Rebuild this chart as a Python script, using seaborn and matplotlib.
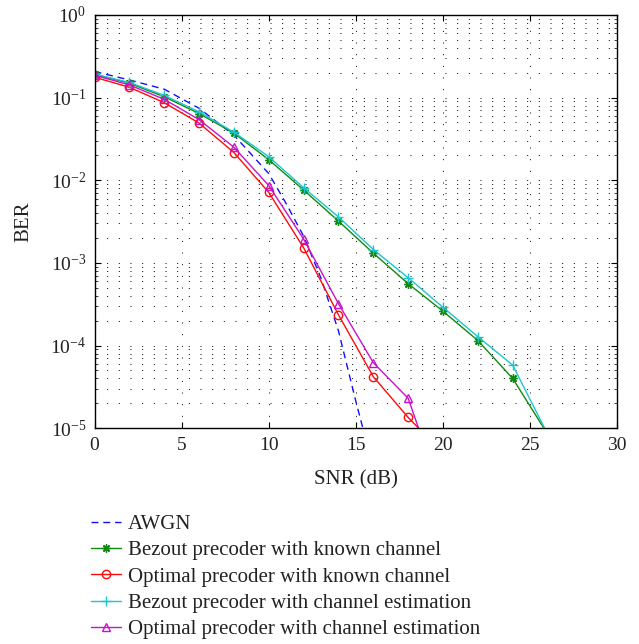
import numpy as np
import pandas as pd
import matplotlib
matplotlib.use("Agg")
import matplotlib.pyplot as plt
import seaborn as sns
from matplotlib.ticker import LogLocator, FixedLocator

# ---- data ----
snr = [0, 2, 4, 6, 8, 10, 12, 14, 16, 18, 20, 22, 24, 26]

awgn_snr = [0, 2, 4, 6, 8, 10, 11, 12, 13, 14, 14.5, 15, 15.4, 15.6]
awgn_ber = [0.206, 0.163, 0.126, 0.074, 0.035, 0.012, 0.0052, 0.0021,
            6.5e-4, 1.5e-4, 5.6e-5, 2.1e-5, 1.0e-5, 7.0e-6]

bezout_known = [0.19, 0.149, 0.102, 0.064, 0.037, 0.0177, 0.0076, 0.0032,
                0.00131, 5.6e-4, 2.6e-4, 1.15e-4, 4.0e-5, 8.5e-6]
optimal_known = [0.176, 0.133, 0.0865, 0.049, 0.0216, 0.0071, 0.00152,
                 2.35e-4, 4.2e-5, 1.35e-5, 5.0e-6]
bezout_est = [0.192, 0.152, 0.106, 0.067, 0.038, 0.0192, 0.0081, 0.0036,
              0.00145, 6.6e-4, 2.9e-4, 1.28e-4, 5.8e-5, 8.5e-6]
optimal_est = [0.186, 0.142, 0.095, 0.054, 0.025, 0.0086, 0.00194,
               3.2e-4, 6.2e-5, 2.3e-5, 1.4e-6]

labels = ["AWGN",
          "Bezout precoder with known channel",
          "Optimal precoder with known channel",
          "Bezout precoder with channel estimation",
          "Optimal precoder with channel estimation"]

xticks = [0, 5, 10, 15, 20, 25, 30]

# ---- style ----
sns.set_theme(style="white")
plt.rcParams["font.family"] = ["Liberation Serif", "DejaVu Serif"]
plt.rcParams["mathtext.fontset"] = "custom"
plt.rcParams["mathtext.rm"] = "Liberation Serif"
plt.rcParams["mathtext.it"] = "Liberation Serif:italic"
plt.rcParams["mathtext.bf"] = "Liberation Serif:bold"

fig = plt.figure(figsize=(6.39, 6.44), dpi=100)
ax = fig.add_axes([0.148, 0.335, 0.818, 0.642])

lw = 1.0
sns.lineplot(x=awgn_snr, y=awgn_ber, ax=ax, color="#1010ff", lw=lw,
             linestyle=(0, (5, 3.5)), label=labels[0], sort=False)
sns.lineplot(x=snr[:len(bezout_known)], y=bezout_known, ax=ax, color="#108a10",
             lw=lw, marker=(8, 2, 0), markersize=6, markeredgewidth=1.0,
             markeredgecolor="#108a10", label=labels[1], sort=False)
sns.lineplot(x=snr[:len(optimal_known)], y=optimal_known, ax=ax, color="#ff0a0a",
             lw=lw, marker="o", markersize=6, markerfacecolor="none",
             markeredgecolor="#ff0a0a", markeredgewidth=1.0,
             label=labels[2], sort=False)
sns.lineplot(x=snr[:len(bezout_est)], y=bezout_est, ax=ax, color="#1cc6cc",
             lw=lw, marker="+", markersize=7, markeredgewidth=1.0,
             markeredgecolor="#1cc6cc", label=labels[3], sort=False)
sns.lineplot(x=snr[:len(optimal_est)], y=optimal_est, ax=ax, color="#c814c8",
             lw=lw, marker="^", markersize=6, markerfacecolor="none",
             markeredgecolor="#c814c8", markeredgewidth=1.0,
             label=labels[4], sort=False)

ax.set_yscale("log")
ax.set_xlim(0, 30)
ax.set_ylim(1e-5, 1)
ax.xaxis.set_major_locator(FixedLocator(xticks))
ax.yaxis.set_major_locator(LogLocator(base=10, numticks=10))
ax.yaxis.set_minor_locator(LogLocator(base=10, subs=np.arange(2, 10), numticks=20))

dot = (0, (1, 11))
ax.grid(True, which="major", axis="both", color="black", lw=0.7, linestyle=dot)
ax.grid(True, which="minor", axis="y", color="black", lw=0.7, linestyle=dot)

for s in ax.spines.values():
    s.set_visible(True)
    s.set_color("black")
    s.set_linewidth(1.0)

ax.tick_params(axis="both", which="major", direction="in", length=4, width=0.8,
               top=True, right=True, bottom=True, left=True,
               labelsize=14, colors="black", pad=6)
ax.tick_params(axis="y", which="minor", direction="in", length=2.5, width=0.6,
               left=True, right=True)
for lab in ax.get_xticklabels() + ax.get_yticklabels():
    lab.set_color("#222222")

ax.set_xlabel("SNR (dB)", fontsize=15, color="#222222", labelpad=12)
ax.set_ylabel("BER", fontsize=15, color="#222222", labelpad=12)

handles, labs = ax.get_legend_handles_labels()
ax.get_legend().remove()
fig.legend(handles, labs, loc="upper left", bbox_to_anchor=(0.13, 0.214),
           frameon=False, fontsize=15, handlelength=1.4, handletextpad=0.35,
           labelspacing=0.32, borderaxespad=0, labelcolor="#222222")

fig.savefig("out.png", dpi=100)
